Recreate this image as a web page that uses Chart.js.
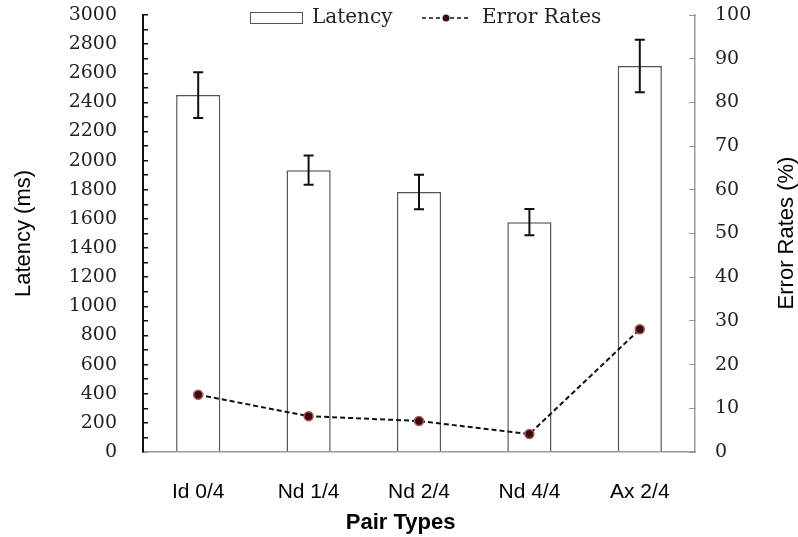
<!DOCTYPE html>
<html>
<head>
<meta charset="utf-8">
<script src="https://cdn.jsdelivr.net/npm/chart.js@4.4.1/dist/chart.umd.min.js"></script>
<style>
  html, body { margin: 0; padding: 0; background: #fff; }
  #wrap { width: 798px; height: 537px; position: relative; }
</style>
</head>
<body>
<div id="wrap"><canvas id="c" width="798" height="537"></canvas></div>
<script>
const categories = ['Id 0/4', 'Nd 1/4', 'Nd 2/4', 'Nd 4/4', 'Ax 2/4'];
const latency = [2450, 1935, 1785, 1578, 2650];
const latencyError = [157, 100, 118, 90, 180];
const errorRates = [13.1, 8.2, 7.1, 4.1, 28.1];
const latencyTicks = { min: 0, max: 3000, step: 100, labelEvery: 200 };
const rateTicks = { min: 0, max: 100, step: 10 };

const serif = '"DejaVu Serif", serif';
const sans = '"Liberation Sans", Arial, sans-serif';

const errorBarPlugin = {
  id: 'errorBars',
  afterDatasetsDraw(chart) {
    const meta = chart.getDatasetMeta(0);
    const ys = chart.scales.y;
    const ctx = chart.ctx;
    ctx.save();
    ctx.strokeStyle = '#111';
    ctx.lineWidth = 2;
    meta.data.forEach((bar, i) => {
      const v = latency[i], e = latencyError[i];
      const yt = ys.getPixelForValue(v + e);
      const yb = ys.getPixelForValue(v - e);
      const x = bar.x;
      ctx.beginPath();
      ctx.moveTo(x, yt); ctx.lineTo(x, yb);
      ctx.moveTo(x - 5, yt); ctx.lineTo(x + 5, yt);
      ctx.moveTo(x - 5, yb); ctx.lineTo(x + 5, yb);
      ctx.stroke();
    });
    ctx.restore();
  }
};

const extrasPlugin = {
  id: 'extras',
  afterDraw(chart) {
    const ctx = chart.ctx;
    const ds = chart.data.datasets;
    ctx.save();
    // legend
    ctx.font = '20px ' + serif;
    ctx.fillStyle = '#222';
    ctx.textBaseline = 'middle';
    ctx.textAlign = 'left';
    ctx.fillStyle = '#fff';
    ctx.fillRect(250, 12, 53, 12);
    ctx.strokeStyle = '#555';
    ctx.lineWidth = 1;
    ctx.strokeRect(250.5, 12.5, 52, 11);
    ctx.fillStyle = '#222';
    ctx.fillText(ds[0].label, 312, 18);
    ctx.strokeStyle = '#111';
    ctx.lineWidth = 1.5;
    ctx.setLineDash([4, 3]);
    ctx.beginPath();
    ctx.moveTo(422, 18); ctx.lineTo(471, 18);
    ctx.stroke();
    ctx.setLineDash([]);
    ctx.beginPath();
    ctx.arc(446, 18, 3.5, 0, Math.PI * 2);
    ctx.fillStyle = '#3b0a0a';
    ctx.fill();
    ctx.fillStyle = '#222';
    ctx.fillText(ds[1].label, 482, 18);
    // right axis title (reads bottom-to-top)
    ctx.translate(787, 233);
    ctx.rotate(-Math.PI / 2);
    ctx.font = '22px ' + sans;
    ctx.fillStyle = '#000';
    ctx.textAlign = 'center';
    ctx.fillText('Error Rates (%)', 0, 0);
    ctx.restore();
  }
};

new Chart(document.getElementById('c'), {
  data: {
    labels: categories,
    datasets: [
      {
        type: 'bar',
        label: 'Latency',
        data: latency,
        yAxisID: 'y',
        backgroundColor: '#ffffff',
        borderColor: '#555555',
        borderWidth: 1.5,
        barPercentage: 0.4,
        categoryPercentage: 1.0,
        order: 2
      },
      {
        type: 'line',
        label: 'Error Rates',
        data: errorRates,
        yAxisID: 'y2',
        borderColor: '#111111',
        borderWidth: 2,
        borderDash: [5, 3],
        pointRadius: 4.5,
        pointBackgroundColor: '#3b0a0a',
        pointBorderColor: '#a85a5a',
        pointBorderWidth: 1.5,
        tension: 0,
        fill: false,
        order: 1
      }
    ]
  },
  options: {
    responsive: false,
    animation: false,
    layout: { padding: { top: 15, left: 0, right: 0, bottom: 0 } },
    plugins: {
      legend: { display: false },
      tooltip: { enabled: false }
    },
    scales: {
      x: {
        grid: { display: false },
        border: { display: true, color: '#999999', width: 1.5 },
        ticks: { color: '#000', font: { family: sans, size: 21 }, padding: 20 },
        title: { display: true, text: 'Pair Types      ', color: '#000',
                 font: { family: sans, size: 22, weight: 'bold' }, padding: { top: 0, bottom: 1 } },
        afterFit(s) { s.height = 85; s.paddingLeft = 0; s.paddingRight = 0; }
      },
      y: {
        position: 'left',
        min: latencyTicks.min,
        max: latencyTicks.max,
        grid: { drawOnChartArea: false, drawTicks: true, tickLength: -5, color: '#111', lineWidth: 1.5 },
        border: { display: true, color: '#111111', width: 2 },
        ticks: {
          stepSize: latencyTicks.step,
          autoSkip: false,
          color: '#222',
          font: { family: serif, size: 19 },
          padding: 31,
          callback: (v) => (v % latencyTicks.labelEvery === 0 ? v : '')
        },
        title: { display: true, text: 'Latency (ms)', color: '#000',
                 font: { family: sans, size: 22 }, padding: { top: 11, bottom: 0 } },
        afterFit(s) { s.width = 143; s.paddingTop = 0; s.paddingBottom = 0; }
      },
      y2: {
        position: 'right',
        min: rateTicks.min,
        max: rateTicks.max,
        grid: { drawOnChartArea: false, drawTicks: true, tickLength: -6, color: '#999999', lineWidth: 1 },
        border: { display: true, color: '#999999', width: 1.5 },
        ticks: {
          stepSize: rateTicks.step,
          autoSkip: false,
          color: '#222',
          font: { family: serif, size: 19 },
          padding: 26
        },
        afterFit(s) { s.width = 103; s.paddingTop = 0; s.paddingBottom = 0; }
      }
    }
  },
  plugins: [errorBarPlugin, extrasPlugin]
});
</script>
</body>
</html>
